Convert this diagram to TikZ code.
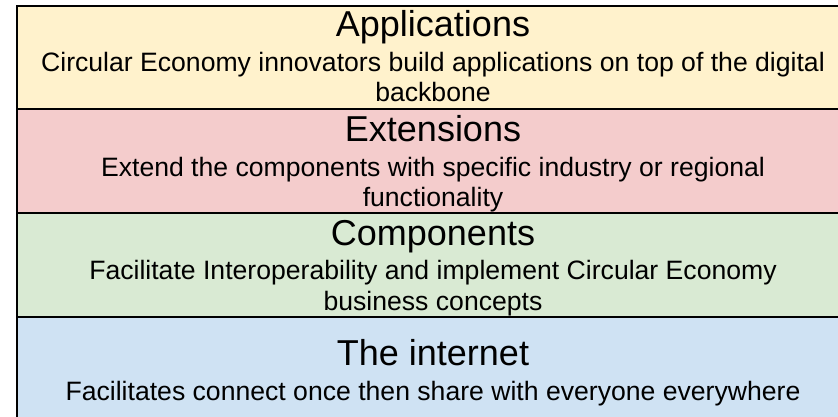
\documentclass[tikz,border=0pt]{standalone}
\usepackage{fontspec}
\setmainfont{Liberation Sans}
\definecolor{bandyellow}{HTML}{FFF2CC}
\definecolor{bandred}{HTML}{F4CCCC}
\definecolor{bandgreen}{HTML}{D9EAD3}
\definecolor{bandblue}{HTML}{CFE2F3}
\tikzset{
  band/.style={draw=black, line width=2pt, rectangle, anchor=north west, inner sep=0pt,
    minimum width=835.5pt, minimum height=#1},
  bandtitle/.style={anchor=base, inner sep=0pt, font=\fontsize{36}{41}\selectfont},
  bandtext/.style={anchor=base, inner sep=0pt, align=center, font=\fontsize{26.6}{30.3}\selectfont},
}
\begin{document}
\begin{tikzpicture}[x=1pt,y=-1pt]
\useasboundingbox (0,0) rectangle (838,416);
\clip (0,0) rectangle (838,416);
\node[band=103.5pt, fill=bandyellow] (app) at (15.5,4.5) {};
\node[band=104pt, fill=bandred] (ext) at (15.5,108) {};
\node[band=103.5pt, fill=bandgreen] (comp) at (15.5,212) {};
\node[band=104pt, fill=bandblue] (net) at (15.5,315.5) {};
% two-line texts: the base anchor lies on the last line's baseline
\node[bandtitle] (appT) at (433,36) {Applications};
\node[bandtext] (appS) at (433,101.5) {Circular Economy innovators build applications on top of the digital\\backbone};
\node[bandtitle] (extT) at (433,141.5) {Extensions};
\node[bandtext] (extS) at (433,206.5) {Extend the components with specific industry or regional\\functionality};
\node[bandtitle] (compT) at (433,245) {Components};
\node[bandtext] (compS) at (433,310) {Facilitate Interoperability and implement Circular Economy\\business concepts};
\node[bandtitle] (netT) at (433,365) {The internet};
\node[bandtext] (netS) at (433,400) {Facilitates connect once then share with everyone everywhere};
\end{tikzpicture}
\end{document}
